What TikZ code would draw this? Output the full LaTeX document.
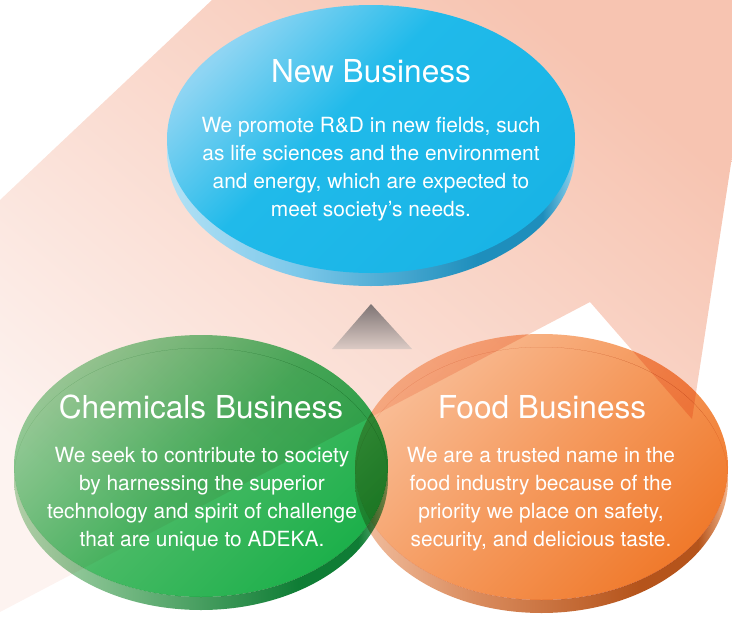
\documentclass[tikz,border=0pt]{standalone}
\usepackage{fontspec}
\setmainfont{TeX Gyre Heros}
\definecolor{peachA}{HTML}{F7C4B1}
\definecolor{peachB}{HTML}{FBE1D8}
\definecolor{peachC}{HTML}{FDF3F0}
\definecolor{triTop}{HTML}{7E7474}
\definecolor{triBot}{HTML}{DCCBC5}
% blue
\definecolor{bfA}{HTML}{8FD5F3}
\definecolor{bfB}{HTML}{20BAEA}
\definecolor{bfC}{HTML}{19B4E6}
\definecolor{bs1}{HTML}{B4E2F5}
\definecolor{bs2}{HTML}{7CC8EA}
\definecolor{bs3}{HTML}{1E8EBC}
\definecolor{bs4}{HTML}{90D3EF}
% green
\definecolor{gfA}{HTML}{97D3A0}
\definecolor{gfB}{HTML}{48BA65}
\definecolor{gfC}{HTML}{1DB04B}
\definecolor{gs1}{HTML}{B2D9B2}
\definecolor{gs2}{HTML}{6DB47D}
\definecolor{gs3}{HTML}{0F7D35}
\definecolor{gs4}{HTML}{7DBE8C}
% orange
\definecolor{ofA}{HTML}{F9BD96}
\definecolor{ofB}{HTML}{F59A5E}
\definecolor{ofC}{HTML}{F07A2C}
\definecolor{os1}{HTML}{F2C0A2}
\definecolor{os2}{HTML}{DA8C5E}
\definecolor{os3}{HTML}{B5541B}
\definecolor{os4}{HTML}{F3B58C}
\pgfdeclarehorizontalshading{blueside}{100bp}{color(0bp)=(bs1); color(25bp)=(bs1); color(41bp)=(bs2); color(63bp)=(bs3); color(71bp)=(bs3); color(75bp)=(bs4); color(100bp)=(bs4)}
\pgfdeclarehorizontalshading{greenside}{100bp}{color(0bp)=(gs1); color(25bp)=(gs1); color(41bp)=(gs2); color(63bp)=(gs3); color(71bp)=(gs3); color(75bp)=(gs4); color(100bp)=(gs4)}
\pgfdeclarehorizontalshading{orangeside}{100bp}{color(0bp)=(os1); color(25bp)=(os1); color(41bp)=(os2); color(63bp)=(os3); color(71bp)=(os3); color(75bp)=(os4); color(100bp)=(os4)}
\pgfdeclareverticalshading{blueface}{100bp}{color(0bp)=(bfC); color(25bp)=(bfC); color(56bp)=(bfB); color(75bp)=(bfA); color(100bp)=(bfA)}
\pgfdeclareverticalshading{greenface}{100bp}{color(0bp)=(gfC); color(25bp)=(gfC); color(50bp)=(gfB); color(75bp)=(gfA); color(100bp)=(gfA)}
\pgfdeclareverticalshading{orangeface}{100bp}{color(0bp)=(ofC); color(25bp)=(ofC); color(50bp)=(ofB); color(75bp)=(ofA); color(100bp)=(ofA)}
\tikzset{
  ttl/.style={text=white, font=\fontsize{31.6}{36}\selectfont, inner sep=0pt},
  bdy/.style={text=white, font=\fontsize{20.9}{28}\selectfont, align=center, inner sep=0pt},
}
\begin{document}
\begin{tikzpicture}[x=1pt,y=-1pt]
\useasboundingbox (0,0) rectangle (732,619);
% background arrow
\shade[top color=peachA, middle color=peachB, bottom color=peachC, shading angle=-40]
  (0,200) -- (212,0) -- (732,0) -- (732,157) -- (692,419) -- (590,302) -- (0,612) -- cycle;
% triangle
\shade[top color=triTop, bottom color=triBot] (371,304) -- (412,349) -- (332,349) -- cycle;
% blue disk
\shade[shading=blueside] (371,152) ellipse [x radius=204, y radius=134];
\shade[shading=blueface, shading angle=45] (371,139) ellipse [x radius=204, y radius=134];
% green disk (multiplied onto what lies below)
\begin{scope}[blend mode=multiply]
  \begin{scope}
    \clip (201,479) ellipse [x radius=187, y radius=131];
    \shade[shading=greenside, even odd rule] (201,479) ellipse [x radius=187, y radius=131] (201,466) ellipse [x radius=187, y radius=131];
  \end{scope}
  \shade[shading=greenface, shading angle=45] (201,466) ellipse [x radius=187, y radius=131];
\end{scope}
% orange disk
\begin{scope}[blend mode=multiply]
  \begin{scope}
    \clip (541.5,480) ellipse [x radius=186.5, y radius=133];
    \shade[shading=orangeside, even odd rule] (541.5,480) ellipse [x radius=186.5, y radius=133] (541.5,467) ellipse [x radius=186.5, y radius=133];
  \end{scope}
  \shade[shading=orangeface, shading angle=45] (541.5,467) ellipse [x radius=186.5, y radius=133];
\end{scope}
% texts
\node[ttl] (nbT) at (371,71) {New Business};
\node[bdy] (nbB) at (371,169) {We promote R\&D in new fields, such\\as life sciences and the environment\\and energy, which are expected to\\meet society’s needs.};
\node[ttl] (chT) at (201,407) {Chemicals Business};
\node[bdy] (chB) at (202,499) {We seek to contribute to society\\by harnessing the superior\\technology and spirit of challenge\\that are unique to ADEKA.};
\node[ttl] (fdT) at (542,407) {Food Business};
\node[bdy] (fdB) at (541,499) {We are a trusted name in the\\food industry because of the\\priority we place on safety,\\security, and delicious taste.};
\end{tikzpicture}
\end{document}
